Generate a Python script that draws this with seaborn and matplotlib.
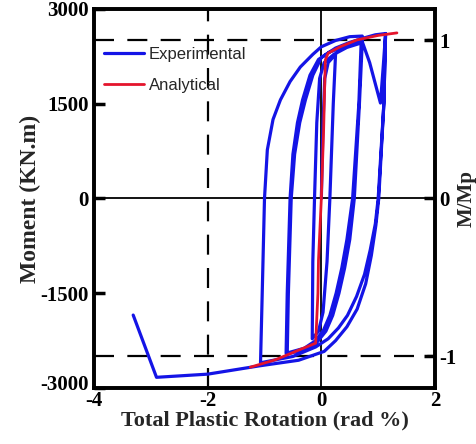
import numpy as np
import pandas as pd
import seaborn as sns
import matplotlib.pyplot as plt
from matplotlib.transforms import ScaledTranslation

# experimental hysteresis, read branch by branch (rotation in rad %, moment in kN.m)
load0_x = [0.0, 0.03, 0.06, 0.12, 0.25]
load0_m = [0, 1200, 1900, 2150, 2280]
downA_x = [0.25, 0.21, 0.15, 0.10, 0.03, -0.05, -0.16]
downA_m = [2280, 1500, 0, -1000, -1800, -2100, -2220]
upA_x = [-0.16, -0.15, -0.12, -0.08, -0.03, 0.05, 0.22, 0.45, 0.70]
upA_m = [-2220, -1000, 0, 1200, 1900, 2150, 2280, 2390, 2460]
downB_x = [0.70, 0.66, 0.55, 0.45, 0.36, 0.26, 0.15, 0.04, -0.10, -0.30, -0.62]
downB_m = [2460, 1500, 0, -650, -1100, -1500, -1850, -2080, -2250, -2370, -2450]
upB_x = [-0.62, -0.60, -0.55, -0.50, -0.42, -0.33, -0.20, -0.05, 0.15, 0.40, 0.72]
upB_m = [-2450, -1500, 0, 700, 1200, 1560, 1950, 2200, 2320, 2400, 2480]
downB2_x = [0.72, 0.67, 0.58, 0.50, 0.41, 0.31, 0.20, 0.08, -0.08, -0.28, -0.60]
downB2_m = [2480, 1500, 0, -650, -1100, -1500, -1850, -2100, -2280, -2390, -2460]
upB2_x = [-0.60, -0.58, -0.53, -0.47, -0.38, -0.28, -0.15, 0.0, 0.25, 0.50, 0.75, 0.95, 1.13]
upB2_m = [-2460, -1500, 0, 700, 1200, 1560, 1950, 2230, 2380, 2470, 2540, 2590, 2610]
downC_x = [1.13, 1.10, 1.00, 0.95, 0.86, 0.76, 0.62, 0.46, 0.30, 0.12, -0.10, -0.50, -1.07]
downC_m = [2610, 1500, 0, -400, -815, -1200, -1550, -1850, -2050, -2220, -2350, -2500, -2600]
upC_x = [-1.07, -1.04, -1.00, -0.95, -0.85, -0.72, -0.55, -0.37, -0.15, 0.0, 0.25, 0.50, 0.72]
upC_m = [-2600, -1500, 0, 770, 1250, 1560, 1850, 2080, 2280, 2400, 2500, 2560, 2570]
dropC_x = [0.72, 0.85, 1.04, 1.09, 1.13]
dropC_m = [2480, 2150, 1510, 2100, 2610]
final_x = [1.13, 1.10, 1.01, 0.96, 0.88, 0.78, 0.63, 0.45, 0.25, 0.05, -0.40, -1.10, -2.00, -2.90, -3.31]
final_m = [2610, 1500, 0, -420, -900, -1350, -1750, -2030, -2250, -2420, -2560, -2650, -2780, -2830, -1845]

# analytical backbone
ana_x = [-1.25, -0.80, -0.40, -0.10, -0.06, -0.05, 0.0, 0.04, 0.07, 0.12, 0.33, 0.63, 1.0, 1.33]
ana_m = [-2670, -2550, -2400, -2290, -1500, -975, 0, 1080, 2190, 2300, 2400, 2510, 2580, 2620]

mp = 2500

exp_x = (load0_x + downA_x + upA_x + downB_x + upB_x + downB2_x + upB2_x
         + downC_x + upC_x + dropC_x + final_x)
exp_m = (load0_m + downA_m + upA_m + downB_m + upB_m + downB2_m + upB2_m
         + downC_m + upC_m + dropC_m + final_m)
exp_df = pd.DataFrame({"rot": exp_x, "moment": exp_m})
ana_df = pd.DataFrame({"rot": ana_x, "moment": ana_m})

sns.set_theme(style="white")
plt.rcParams["font.family"] = ["Liberation Serif", "DejaVu Serif"]
plt.rcParams["axes.unicode_minus"] = False

fig = plt.figure(figsize=(4.77, 4.44), dpi=100)
ax = fig.add_axes([0.197, 0.126, 0.715, 0.854])

ax.axhline(0, color="black", lw=1.3, zorder=1)
ax.axvline(0, color="black", lw=1.3, zorder=1)
for yy in (mp, -mp):
    ax.axhline(yy, color="black", lw=1.6, dashes=(9, 6), zorder=1)
ax.axvline(-2, color="black", lw=1.6, dashes=(9, 6), zorder=1)

sns.lineplot(data=exp_df, x="rot", y="moment", sort=False, estimator=None,
             color="#1414e6", lw=2.3, ax=ax, label="Experimental", zorder=3)
sns.lineplot(data=ana_df, x="rot", y="moment", sort=False, estimator=None,
             color="#e4142c", lw=2.0, ax=ax, label="Analytical", zorder=4)

ax.set_xlim(-4, 2)
ax.set_ylim(-3000, 3000)
ax.set_xticks([-4, -2, 0, 2])
ax.set_yticks([-3000, -1500, 0, 1500, 3000])
ax.tick_params(direction="in", length=8, width=2.5, labelsize=15, pad=4, colors="black")
ax.tick_params(axis="x", pad=2)
for lab in ax.get_xticklabels() + ax.get_yticklabels():
    lab.set_fontweight("bold")
# lift the lowest moment label a little so it clears the "-4"
low = ax.get_yticklabels()[0]
low.set_transform(low.get_transform() + ScaledTranslation(0, 4 / 72, fig.dpi_scale_trans))
for sp in ax.spines.values():
    sp.set_linewidth(2.6)
    sp.set_color("black")
ax.set_xlabel("Total Plastic Rotation (rad %)", fontsize=16, fontweight="bold", labelpad=0)
ax.set_ylabel("Moment (KN.m)", fontsize=17, fontweight="bold", labelpad=-1)

leg = ax.legend(loc="upper left", bbox_to_anchor=(-0.015, 0.94), frameon=False,
                handlelength=2.4, handletextpad=0.3, labelspacing=1.0,
                prop={"family": "Liberation Sans", "size": 12})

ax2 = ax.twinx()
ax2.set_ylim(-3000 / mp, 3000 / mp)
ax2.set_yticks([-1, 0, 1])
ax2.set_yticklabels(["-1", "0", "1"])
ax2.tick_params(direction="in", length=8, width=2.5, labelsize=15, pad=3, colors="black")
for lab in ax2.get_yticklabels():
    lab.set_fontweight("bold")
ax2.set_ylabel("M/Mp", fontsize=15, fontweight="bold", labelpad=0)
for sp in ax2.spines.values():
    sp.set_linewidth(2.6)
    sp.set_color("black")

fig.savefig("out.png", dpi=100, facecolor="white")
